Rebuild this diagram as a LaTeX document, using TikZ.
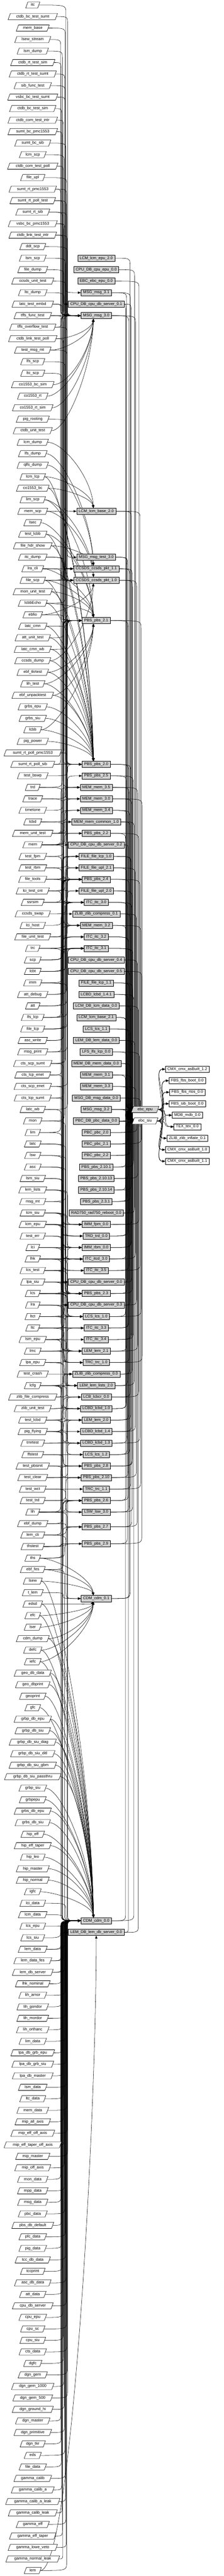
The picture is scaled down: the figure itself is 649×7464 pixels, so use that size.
\documentclass[tikz,border=0pt]{standalone}
\usepackage{fontspec}
\setmainfont{Liberation Sans}
\usetikzlibrary{shapes.geometric,arrows.meta,calc}
\pgfdeclarelayer{bg}
\pgfsetlayers{bg,main}
\definecolor{gfill}{RGB}{211,211,211}
% left node -> middle node through the vertical corridor
\newcommand\LM[3]{%
\draw[ledge] let \p1=(#1.east), \p2=(#2.west),
  \n1={min(#3,\x2-14)},
  \n2={ifthenelse(\y2<\y1,-1,1)*min(22,abs(\y2-(\y1))/2)} in
  (\p1) .. controls (\n1,\y1) .. (\n1,{\y1+(\n2)})
  -- (\n1,{\y2-(\n2)}) .. controls (\n1,\y2) .. (\p2);}
% left node -> top or bottom of a middle node
\newcommand\FAN[2]{%
\draw[ledge] let \p1=(#1.east), \p2=(#2.center),
  \n1={ifthenelse(\y1>\y2,1,-1)},
  \n2={abs(\y1-(\y2))} in
  (\p1) .. controls ({\x1+45pt},\y1) and ({\x2-14pt},{\y2+(\n1)*(9+0.45*(\n2))}) .. ({\x2-8pt},{\y2+(\n1)*9});}
% middle node -> ebc node through the right corridor
\newcommand\ME[3]{%
\draw[medge] let \p1=(#1.east), \p2=(#2.center),
  \n2={ifthenelse(\y2<\y1,-1,1)*min(22,abs(\y2-(\y1))/2)} in
  (\p1) .. controls (#3pt,\y1) .. (#3pt,{\y1+(\n2)})
  -- (#3pt,{\y2-(\n2)}) .. controls (#3pt,\y2) .. (\p2);}
\begin{document}
\begin{tikzpicture}[x=1pt,y=-1pt,
  declare function={ry(\r)=14.7+33.333*\r;},
  lnode/.style={trapezium, trapezium left angle=70, trapezium right angle=110,
    draw, fill=white, line width=0.9pt, inner xsep=6pt, inner ysep=2pt,
    minimum height=18pt, text height=8.3pt, text depth=2.6pt,
    font=\fontsize{11.4}{13}\selectfont},
  enode/.style={lnode, fill=gfill},
  mnode/.style={rectangle, draw, fill=gfill, line width=0.9pt, inner xsep=6pt,
    inner ysep=2pt, minimum height=18pt, text height=8.3pt, text depth=2.6pt,
    font=\fontsize{11.4}{13}\selectfont},
  rnode/.style={mnode, fill=white},
  ledge/.style={line width=0.8pt, -{Triangle[length=8.5pt,width=6.5pt]}},
  medge/.style={line width=0.8pt}]
\useasboundingbox (0,0) rectangle (649,7464);

% ---------------- left column ----------------
\foreach \lbl [count=\i from 0] in {itc, ctdb\_bc\_test\_sumt, mem\_base, lsew\_stream, lsm\_dump, ctdb\_rt\_test\_sim, ctdb\_rt\_test\_sumt, sib\_func\_test, vsbc\_bc\_test\_sumt, ctdb\_bc\_test\_sim, ctdb\_com\_test\_intr, sumt\_bc\_pmc1553, sumt\_bc\_sib, lcm\_scp, ctdb\_com\_test\_poll, file\_upl, sumt\_rt\_pmc1553, sumt\_rt\_poll\_test, sumt\_rt\_sib, vsbc\_bc\_pmc1553, ctdb\_link\_test\_intr, ddt\_scp, lsm\_scp, file\_dump, ccsds\_unit\_test, ltc\_dump, latc\_test\_embd, tffs\_func\_test, tffs\_overflow\_test, ctdb\_link\_test\_poll, test\_msg\_mt, lfs\_scp, ltc\_scp, co1553\_bc\_sim, co1553\_rt, co1553\_rt\_sim, pig\_rooting, ctdb\_unit\_test, lcm\_dump, lfs\_dump, qlfs\_dump, lcm\_lcp, co1553\_bc, lim\_scp, mem\_scp, lsec, test\_lcbb, file\_hdr\_show, itc\_dump, lra\_cli, file\_scp, mon\_unit\_test, lcbbEcho, ebfio, latc\_cmn, att\_unit\_test, latc\_cmn\_wb, ccsds\_dump, ebf\_tkrtest, lih\_test, ebf\_unpacktest, grbs\_epu, grbs\_siu, lcbb, pig\_power, sumt\_rt\_poll\_pmc1553, sumt\_rt\_poll\_sib, test\_bswp, trd, trace, timetone, lcbd, mem\_unit\_test, mem, test\_fpm, test\_rbm, file\_tools, lci\_test\_cnt, ssrsim, ccsds\_swap, lci\_host, file\_unit\_test, trc, scp, lcbt, imm, att\_debug, att, lfs\_lcp, file\_lcp, asc\_write, msg\_print, cts\_scp\_sumt, cts\_lcp\_enet, cts\_scp\_enet, cts\_lcp\_sumt, latc\_wb, mon, lim, latc, lsw, asc, lsm\_siu, lem\_lists, msg\_mt, lcm\_siu, lcm\_epu, test\_err, lci, lhk, lcs\_test, lpa\_siu, lcs, lra, ltct, ltc, lsm\_epu, lmc, lpa\_epu, test\_crash, lcfg, zlib\_file\_compress, zlib\_unit\_test, test\_lcbd, pig\_flying, tmrtest, ffstest, test\_pbsinit, test\_clear, test\_wct, test\_trd, lih, ebf\_dump, lem\_cli, thstest, ths, ebf\_fes, lsew, t\_lem, edsd, efc, lser, cdm\_dump, defc, iefc, geo\_db\_data, geo\_dbprint, geoprint, gfc, grbp\_db\_epu, grbp\_db\_siu, grbp\_db\_siu\_diag, grbp\_db\_siu\_ditl, grbp\_db\_siu\_gbm, grbp\_db\_siu\_passthru, grbp\_siu, grbpepu, grbs\_db\_epu, grbs\_db\_siu, hip\_eff, hip\_eff\_taper, hip\_leo, hip\_master, hip\_normal, igfc, lci\_data, lcm\_data, lcs\_epu, lcs\_siu, lem\_data, lem\_data\_fes, lem\_db\_server, lhk\_nominal, lih\_arnor, lih\_gondor, lih\_mordor, lih\_orthanc, lim\_data, lpa\_db\_grb\_epu, lpa\_db\_grb\_siu, lpa\_db\_master, lsm\_data, ltc\_data, mem\_data, mip\_all\_axis, mip\_eff\_off\_axis, mip\_eff\_taper\_off\_axis, mip\_master, mip\_off\_axis, mon\_data, mpp\_data, msg\_data, pbc\_data, pbs\_db\_default, pfc\_data, pig\_data, tcc\_db\_data, tccprint, asc\_db\_data, att\_data, cpu\_db\_server, cpu\_epu, cpu\_sc, cpu\_siu, cts\_data, dgfc, dgn\_gem, dgn\_gem\_1000, dgn\_gem\_500, dgn\_ground\_hi, dgn\_master, dgn\_primitive, dgn\_tkr, eds, file\_data, gamma\_calib, gamma\_calib\_a, gamma\_calib\_a\_leak, gamma\_calib\_leak, gamma\_eff, gamma\_eff\_taper, gamma\_lowe\_veto, gamma\_normal\_leak, lem}
  \node[lnode] (l\i) at (95,{ry(\i)}) {\lbl};

% ---------------- middle column ----------------
\node[mnode] (m1) at (279,{ry(22)}) {LCM\_lcm\_epu\_2.0};
\node[mnode] (m2) at (279,{ry(23)}) {CPU\_DB\_cpu\_epu\_0.0};
\node[mnode] (m3) at (279,{ry(24)}) {EBC\_ebc\_epu\_0.0};
\node[mnode] (m4) at (279,{ry(25)}) {MSG\_msg\_3.1};
\node[mnode] (m5) at (279,{ry(26)}) {CPU\_DB\_cpu\_db\_server\_0.1};
\node[mnode] (m6) at (279,{ry(27)}) {MSG\_msg\_3.0};
\node[mnode] (m7) at (279,{ry(44)}) {LCM\_lcm\_base\_2.0};
\node[mnode] (m8) at (279,{ry(48)}) {MSG\_msg\_test\_3.0};
\node[mnode] (m9) at (279,{ry(49)}) {CCSDS\_ccsds\_pkt\_1.1};
\node[mnode] (m10) at (279,{ry(50)}) {CCSDS\_ccsds\_pkt\_1.0};
\node[mnode] (m11) at (279,{ry(53.5)}) {PBS\_pbs\_2.1};
\foreach \lbl [count=\k from 12] in {PBS\_pbs\_2.0, PBS\_pbs\_2.5, MEM\_mem\_3.5, MEM\_mem\_3.0, MEM\_mem\_3.4, MEM\_mem\_common\_1.0, PBS\_pbs\_2.2, CPU\_DB\_cpu\_db\_server\_0.2, FILE\_file\_lcp\_1.0, FILE\_file\_upl\_2.1, PBS\_pbs\_2.4, FILE\_file\_upl\_2.0, ITC\_itc\_3.0, ZLIB\_zlib\_compress\_0.1, MEM\_mem\_3.2, ITC\_itc\_3.2, ITC\_itc\_3.1, CPU\_DB\_cpu\_db\_server\_0.4, CPU\_DB\_cpu\_db\_server\_0.5, FILE\_file\_lcp\_1.1, LCBD\_lcbd\_1.4.1, LCM\_DB\_lcm\_data\_0.0, LCM\_lcm\_base\_2.1, LCS\_lcs\_1.1, LEM\_DB\_lem\_data\_0.0, LFS\_lfs\_lcp\_0.0, MEM\_DB\_mem\_data\_0.0, MEM\_mem\_3.1, MEM\_mem\_3.3, MSG\_DB\_msg\_data\_0.0, MSG\_msg\_3.2, PBC\_DB\_pbc\_data\_0.0, PBC\_pbc\_2.0, PBC\_pbc\_2.1, PBC\_pbc\_2.2, PBS\_pbs\_2.10.1, PBS\_pbs\_2.10.13, PBS\_pbs\_2.10.14, PBS\_pbs\_2.3.1, RAD750\_rad750\_reboot\_0.0, IMM\_fpm\_0.0, TRD\_trd\_0.0, IMM\_rbm\_0.0, ITC\_itcd\_3.0, ITC\_itc\_3.5, CPU\_DB\_cpu\_db\_server\_0.0, PBS\_pbs\_2.3, CPU\_DB\_cpu\_db\_server\_0.3, LCS\_lcs\_1.0, ITC\_itc\_3.3, ITC\_itc\_3.4, LEM\_lem\_2.1, TRC\_trc\_1.0, ZLIB\_zlib\_compress\_0.0, LEM\_lem\_lists\_2.0, LCB\_lcbcr\_0.0, LCBD\_lcbd\_1.0, LEM\_lem\_2.0, LCBD\_lcbd\_1.4, LCBD\_lcbd\_1.3, LCS\_lcs\_1.2, PBS\_pbs\_2.8, PBS\_pbs\_2.10, TRC\_trc\_1.1, PBS\_pbs\_2.6, LSW\_lsw\_3.0}
  \node[mnode] (m\k) at (279,{ry(\k+54)}) {\lbl};
\node[mnode] (m78) at (279,4424.2) {PBS\_pbs\_2.7};
\node[mnode] (m79) at (279,4473) {PBS\_pbs\_2.9};
\node[mnode] (m80) at (279,4631.8) {CDM\_cdm\_0.1};
\node[mnode] (m81) at (279,5565.3) {CDM\_cdm\_0.0};
\node[mnode] (m82) at (279,5599) {LEM\_DB\_lem\_db\_server\_0.0};

% ---------------- ebc and right column ----------------
\node[enode] (ee) at (420.5,{ry(96)}) {ebc\_epu};
\node[lnode] (es) at (420.5,{ry(97)}) {ebc\_siu};
\foreach \lbl [count=\k] in {CMX\_cmx\_asBuilt\_1.2, FBS\_fbs\_boot\_0.0, FBS\_fbs\_rtos\_0.0, FBS\_sib\_boot\_0.0, MDB\_mdb\_0.0, TEX\_tex\_0.0, ZLIB\_zlib\_inflate\_0.1, CMX\_cmx\_asBuilt\_1.0, CMX\_cmx\_asBuilt\_1.1}
  \node[rnode] (r\k) at (543,{ry(91.5+\k)}) {\lbl};

% ---------------- connectors ----------------
\begin{pgfonlayer}{bg}
\fill[white] (0,0) rectangle (649,7464);
\foreach \src/\tgt in {0/24,1/6,2/15,3/6,4/9,5/6,6/6,7/4,8/6,9/6,10/5,11/6,12/6,13/7,14/5,15/21,16/6,16/11,17/6,17/12,18/6,18/12,19/6,19/11,20/6,20/5,21/8,22/9,23/10,24/9,25/10,26/6,26/11,27/6,27/22,28/6,28/22,29/57,30/26,31/10,32/10,36/12,44/14,48/9,48/10,49/9,49/10,50/9,50/10,52/10,53/11,54/11,55/11,56/11,65/12,65/6,66/12,66/6,67/12,68/53,68/11,69/64,69/11,70/11,71/68,71/11,72/17,72/18,72/14,72/15,72/16,73/17,73/18,73/14,73/15,73/16,73/26,74/52,74/11,75/54,75/11,76/21,76/23,76/11,77/22,77/24,77/19,78/22,78/24,78/13,79/10,80/22,81/20,81/23,82/64,82/24,82/27,83/24,83/28,83/20,84/28,84/24,84/22,85/52,85/54,85/24,86/24,86/22,87/28,87/22,88/20,88/22,88/25,89/20,89/21,89/22,90/22,90/26,91/6,91/26,92/27,92/57,92/22,93/57,93/27,94/57,94/28,95/57,95/28,96/58,96/28,97/58,97/24,98/58,98/28,99/58,99/57,100/77,100/58,101/58,101/57,102/58,102/59,103/66,103/63,103/81,104/59,104/26,105/52,105/53,105/54,105/55,105/60,106/52,106/53,106/54,106/55,106/61,107/55,107/56,108/54,108/55,108/57,109/54,109/55,109/58,109/63,110/55,110/56,110/60,110/57,111/57,111/58,111/59,111/66,112/57,112/60,112/58,112/72,112/81,113/59,113/60,113/63,114/58,114/60,114/63,115/60,115/61,115/64,116/62,116/59,116/63,116/81,117/63,117/64,117/61,118/65,118/63,118/66,119/65,120/66,120/67,120/68,120/65,120/69,120/81,121/66,121/65,122/67,122/65,123/68,123/67,123/70,123/71,124/69,124/68,124/71,124/73,124/81,125/71,125/69,126/73,126/72,127/73,127/74,128/74,128/71,129/76,129/75,130/76,130/74,131/77,131/76,131/73,131/81,132/76,132/78,133/76,133/69,133/80,134/78,134/79,134/76,135/78,135/79,136/76,136/81,138/80,165/81,166/81,167/81,169/82,170/82,171/82}
  {\pgfmathtruncatemacro\cc{176+mod(11*\src+5*\tgt,21)}\LM{l\src}{m\tgt}{\cc}}
\foreach \src in {168,...,223}
  {\pgfmathtruncatemacro\cc{176+mod(11*\src,21)}\LM{l\src}{m81}{\cc}}
\foreach \src/\tgt in {29/6,30/6,33/6,34/6,35/6,37/6,38/7,39/9,40/9,41/7,41/12,42/7,42/12,43/10,43/11,44/10,45/11,46/11,46/12,47/9,47/12,49/11,50/11,50/12,51/11,51/12,52/11,52/12,53/10,54/12,55/12,56/12,57/10,57/12,58/12,58/11,59/11,59/12,60/12,60/11,61/12,62/12,63/12,63/11,64/12,135/80,136/80,137/80,137/81,139/80,139/81,140/80,140/81,141/80,142/80,142/81,143/80,143/81,144/80,144/81}
  {\FAN{l\src}{m\tgt}}
\foreach \src in {145,...,164} {\FAN{l\src}{m81}}
\draw[ledge] let \p1=(l223.east), \p2=(m82.south) in
  (\p1) .. controls ({\x1+90pt},\y1) and (\x2,{\y2-0.3*(\y2-(\y1))}) .. (\p2);
% middle -> ebc
\foreach \k in {1,...,42} {\pgfmathtruncatemacro\cc{364+mod(13*\k,49)}\ME{m\k}{ee}{\cc}}
\foreach \k in {4,...,42} {\pgfmathtruncatemacro\cc{364+mod(8*\k+3,21)}\ME{m\k}{es}{\cc}}
\foreach \k in {43,...,82} {\pgfmathtruncatemacro\cc{364+mod(13*\k,49)}\ME{m\k}{es}{\cc}}
\foreach \k in {43,...,82} {\pgfmathtruncatemacro\cc{364+mod(8*\k+3,21)}\ME{m\k}{ee}{\cc}}
% ebc -> right column
\foreach \k in {1,...,9} {
  \draw[ledge] (ee.east) .. controls +(40,0) and +(-40,0) .. (r\k.west);
  \draw[ledge] (es.east) .. controls +(40,0) and +(-40,0) .. (r\k.west);
}
\end{pgfonlayer}
\end{tikzpicture}
\end{document}
